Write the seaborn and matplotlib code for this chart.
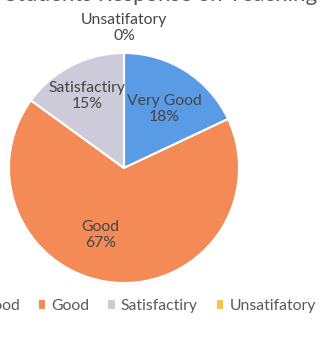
import matplotlib
matplotlib.use("Agg")
import matplotlib.pyplot as plt
import seaborn as sns
import numpy as np
from matplotlib.patches import Patch

# chart data
categories = ["Very Good", "Good", "Satisfactiry", "Unsatifatory"]
percents = [18, 67, 15, 0]
colors = ["#5a9be6", "#f48a56", "#cdcbd9", "#f4c44c"]
title = "Students Response on Teaching"

sns.set_theme(style="white")
plt.rcParams["font.family"] = ["Lato", "DejaVu Sans"]

fig = plt.figure(figsize=(3.22, 3.47), dpi=100)
ax = fig.add_axes([9 / 322, 64 / 347, 230 / 322, 230 / 347])

wedges, _ = ax.pie(percents, colors=colors, startangle=90, counterclock=False,
                   wedgeprops={"edgecolor": "white", "linewidth": 1.5})
ax.set_xlim(-1, 1)
ax.set_ylim(-1, 1)
ax.set_aspect("equal")

# per-slice label distance (Excel "best fit" style)
label_r = [0.62, 0.62, 0.70, 1.22]
for w, name, p, r in zip(wedges, categories, percents, label_r):
    ang = np.deg2rad((w.theta1 + w.theta2) / 2)
    if name == "Good":
        ang -= np.deg2rad(14)
    elif name == "Very Good":
        ang -= np.deg2rad(2)
    ax.text(r * np.cos(ang), r * np.sin(ang), f"{name}\n{p}%", ha="center",
            va="center", fontsize=11.3, color="#454545", linespacing=1.2,
            clip_on=False)

fig.text(0.5, 1.015, title, ha="center", va="center", fontsize=16,
         color="#595959")

handles = [Patch(facecolor=c, edgecolor="none") for c in colors]
fig.legend(handles, categories, ncol=4, loc="center right",
           bbox_to_anchor=(1.0, 41 / 347), frameon=False, fontsize=11.3,
           handlelength=0.4, handleheight=0.45, handletextpad=0.4,
           columnspacing=1.2, borderaxespad=0, labelcolor="#595959")

fig.savefig("out.png", dpi=100)
